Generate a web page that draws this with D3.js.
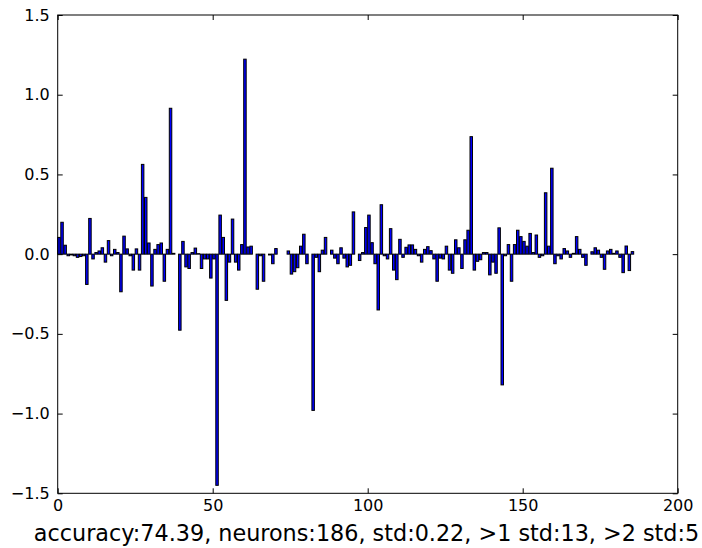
<!DOCTYPE html>
<html>
<head>
<meta charset="utf-8">
<script src="https://cdn.jsdelivr.net/npm/d3@7"></script>
<style>
  body { margin: 0; background: #fff; }
  text { font-family: "DejaVu Sans", sans-serif; }
</style>
</head>
<body>
<div id="chart"></div>
<script>
// one weight per neuron
var weights = [
  0.105, 0.2, 0.056, -0.01, -0.005, -0.01, -0.02, -0.015, -0.01, -0.19,
  0.224, -0.03, 0.01, 0.02, 0.04, -0.05, 0.085, -0.01, 0.03, 0.01,
  -0.236, 0.113, 0.033, -0.01, -0.1, 0.033, -0.1, 0.563, 0.356, 0.07,
  -0.2, 0.03, 0.06, 0.07, -0.17, 0.03, 0.915, 0.005, 0.0, -0.477,
  0.08, -0.08, -0.09, 0.01, 0.038, 0.003, -0.09, -0.03, -0.03, -0.15,
  -0.03, -1.45, 0.245, 0.105, -0.29, -0.05, 0.22, -0.05, -0.1, 0.06,
  1.223, 0.045, 0.05, 0.0, -0.22, -0.01, -0.17, 0.0, -0.005, -0.06,
  0.035, 0.0, 0.0, 0.0, 0.02, -0.125, -0.11, -0.085, 0.05, 0.125,
  -0.06, 0.0, -0.98, -0.02, -0.11, 0.025, 0.105, 0.0, 0.025, -0.025,
  -0.06, 0.04, -0.025, -0.08, -0.07, 0.265, 0.0, -0.04, 0.01, 0.167,
  0.245, 0.072, -0.06, -0.35, 0.31, -0.01, -0.03, 0.16, -0.1, -0.16,
  0.093, -0.02, 0.043, 0.058, 0.058, 0.03, -0.01, -0.05, 0.03, 0.047,
  0.022, -0.03, -0.17, -0.025, -0.03, 0.05, -0.1, -0.12, 0.09, 0.04,
  -0.09, 0.09, 0.15, 0.737, -0.1, -0.045, -0.035, 0.01, 0.01, -0.13,
  -0.05, -0.12, 0.165, -0.82, -0.01, 0.06, -0.17, 0.06, 0.15, 0.11,
  0.08, 0.05, 0.13, 0.01, 0.12, -0.02, -0.01, 0.385, 0.05, 0.539,
  -0.06, -0.01, -0.03, 0.035, 0.02, -0.02, 0.005, 0.11, 0.03, -0.02,
  -0.07, 0.0, 0.015, 0.04, 0.025, -0.02, -0.095, 0.02, 0.03, 0.005,
  0.02, -0.02, -0.116, 0.051, -0.103, 0.016
];
var xTicks = [0, 50, 100, 150, 200];
var yTicks = [-1.5, -1, -0.5, 0, 0.5, 1, 1.5];
var yTickLabels = ["\u22121.5", "\u22121.0", "\u22120.5", "0.0", "0.5", "1.0", "1.5"];
var caption = "accuracy:74.39, neurons:186, std:0.22, >1 std:13, >2 std:5";

var width = 702, height = 548;
var margin = {top: 15, right: 24.3, bottom: 54.7, left: 57.7};
var barWidth = 0.8;

var svg = d3.select("#chart").append("svg")
    .attr("width", width)
    .attr("height", height);

svg.append("rect")
    .attr("width", width)
    .attr("height", height)
    .attr("fill", "#fff");

var x = d3.scaleLinear()
    .domain([0, 200])
    .range([margin.left, width - margin.right]);

var y = d3.scaleLinear()
    .domain([-1.5, 1.5])
    .range([height - margin.bottom, margin.top]);

svg.append("g")
  .selectAll("rect")
    .data(weights)
  .enter().append("rect")
    .attr("x", function(d, i) { return x(i); })
    .attr("width", function(d, i) { return x(i + barWidth) - x(i); })
    .attr("y", function(d) { return Math.min(y(d), y(0)); })
    .attr("height", function(d) { return Math.abs(y(d) - y(0)); })
    .attr("fill", "#0000ff")
    .attr("stroke", "#000")
    .attr("stroke-width", 1);

// ticks point inward on every side, like the old matplotlib style
function styleAxis(g) {
  g.select(".domain").remove();
  g.selectAll(".tick line").attr("stroke", "#000");
  g.selectAll("text").attr("fill", "#000").style("font-size", "16px");
}

svg.append("g")
    .attr("transform", "translate(0," + y(-1.5) + ")")
    .call(d3.axisBottom(x).tickValues(xTicks).tickSize(-5).tickPadding(6))
    .call(styleAxis);

svg.append("g")
    .attr("transform", "translate(0," + y(1.5) + ")")
    .call(d3.axisTop(x).tickValues(xTicks).tickSize(-5).tickFormat(""))
    .call(styleAxis);

svg.append("g")
    .attr("transform", "translate(" + x(0) + ",0)")
    .call(d3.axisLeft(y).tickValues(yTicks).tickSize(-5).tickPadding(8)
      .tickFormat(function(d, i) { return yTickLabels[i]; }))
    .call(styleAxis);

svg.append("g")
    .attr("transform", "translate(" + x(200) + ",0)")
    .call(d3.axisRight(y).tickValues(yTicks).tickSize(-5).tickFormat(""))
    .call(styleAxis);

svg.append("rect")
    .attr("x", x(0))
    .attr("y", y(1.5))
    .attr("width", x(200) - x(0))
    .attr("height", y(-1.5) - y(1.5))
    .attr("fill", "none")
    .attr("stroke", "#000")
    .attr("stroke-width", 1);

svg.append("text")
    .attr("x", 366.5)
    .attr("y", 541)
    .attr("text-anchor", "middle")
    .style("font-size", "22.3px")
    .attr("fill", "#000")
    .text(caption);
</script>
</body>
</html>
